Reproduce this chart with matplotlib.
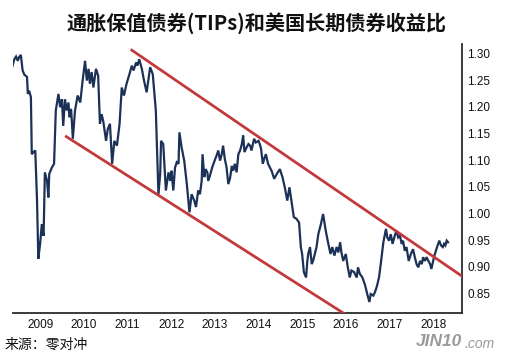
import matplotlib
matplotlib.use("Agg")
import matplotlib.pyplot as plt

# TIPs / long-term Treasury yield ratio
years = [
    2008.35, 2008.41, 2008.45, 2008.49, 2008.52, 2008.56, 2008.60, 2008.64, 2008.70, 2008.72,
    2008.75, 2008.79, 2008.81, 2008.85, 2008.89, 2008.93, 2008.96, 2009.00, 2009.04, 2009.08,
    2009.11, 2009.16, 2009.19, 2009.21, 2009.27, 2009.32, 2009.36, 2009.42, 2009.46, 2009.50,
    2009.53, 2009.57, 2009.61, 2009.65, 2009.67, 2009.71, 2009.75, 2009.80, 2009.86, 2009.92,
    2009.97, 2010.03, 2010.07, 2010.11, 2010.14, 2010.18, 2010.22, 2010.28, 2010.33, 2010.37,
    2010.41, 2010.45, 2010.51, 2010.55, 2010.60, 2010.65, 2010.70, 2010.76, 2010.82, 2010.87,
    2010.92, 2010.98, 2011.06, 2011.10, 2011.14, 2011.20, 2011.23, 2011.27, 2011.33, 2011.38,
    2011.44, 2011.52, 2011.58, 2011.65, 2011.71, 2011.75, 2011.77, 2011.82, 2011.88, 2011.94,
    2011.98, 2012.01, 2012.05, 2012.09, 2012.13, 2012.17, 2012.19, 2012.24, 2012.30, 2012.36,
    2012.42, 2012.47, 2012.53, 2012.57, 2012.62, 2012.66, 2012.70, 2012.72, 2012.76, 2012.79,
    2012.83, 2012.85, 2012.89, 2012.94, 2013.01, 2013.04, 2013.08, 2013.12, 2013.16, 2013.19,
    2013.23, 2013.27, 2013.31, 2013.35, 2013.39, 2013.42, 2013.46, 2013.50, 2013.54, 2013.58,
    2013.62, 2013.65, 2013.68, 2013.73, 2013.77, 2013.81, 2013.84, 2013.90, 2013.94, 2014.00,
    2014.03, 2014.06, 2014.10, 2014.13, 2014.17, 2014.22, 2014.30, 2014.36, 2014.42, 2014.49,
    2014.55, 2014.61, 2014.66, 2014.71, 2014.76, 2014.81, 2014.87, 2014.93, 2014.97, 2015.00,
    2015.04, 2015.09, 2015.12, 2015.14, 2015.18, 2015.22, 2015.25, 2015.29, 2015.33, 2015.37,
    2015.43, 2015.48, 2015.54, 2015.60, 2015.65, 2015.69, 2015.74, 2015.79, 2015.83, 2015.87,
    2015.90, 2015.94, 2016.00, 2016.04, 2016.09, 2016.13, 2016.19, 2016.25, 2016.28, 2016.32,
    2016.38, 2016.44, 2016.50, 2016.54, 2016.57, 2016.63, 2016.67, 2016.71, 2016.76, 2016.80,
    2016.86, 2016.92, 2016.95, 2016.99, 2017.03, 2017.07, 2017.12, 2017.16, 2017.20, 2017.24,
    2017.28, 2017.31, 2017.35, 2017.39, 2017.44, 2017.49, 2017.54, 2017.58, 2017.62, 2017.66,
    2017.70, 2017.74, 2017.77, 2017.81, 2017.85, 2017.89, 2017.93, 2017.96, 2018.00, 2018.04,
    2018.09, 2018.14, 2018.18, 2018.22, 2018.25, 2018.28, 2018.31, 2018.34,
]
ratio = [
    1.271, 1.289, 1.294, 1.286, 1.293, 1.297, 1.268, 1.260, 1.256, 1.224,
    1.230, 1.218, 1.111, 1.115, 1.118, 1.024, 0.915, 0.943, 0.980, 0.958,
    1.077, 1.061, 1.030, 1.074, 1.086, 1.093, 1.193, 1.224, 1.199, 1.214,
    1.164, 1.214, 1.193, 1.208, 1.180, 1.196, 1.140, 1.193, 1.221, 1.208,
    1.246, 1.286, 1.249, 1.271, 1.243, 1.265, 1.236, 1.271, 1.258, 1.168,
    1.186, 1.171, 1.136, 1.158, 1.168, 1.093, 1.136, 1.127, 1.168, 1.236,
    1.221, 1.243, 1.265, 1.277, 1.268, 1.283, 1.277, 1.289, 1.271, 1.249,
    1.227, 1.274, 1.261, 1.193, 1.036, 1.074, 1.136, 1.130, 1.043, 1.077,
    1.061, 1.080, 1.043, 1.086, 1.096, 1.093, 1.152, 1.124, 1.099, 1.055,
    1.002, 1.036, 1.024, 1.012, 1.043, 1.036, 1.061, 1.111, 1.068, 1.083,
    1.077, 1.061, 1.071, 1.086, 1.102, 1.108, 1.118, 1.099, 1.111, 1.127,
    1.102, 1.086, 1.055, 1.066, 1.089, 1.080, 1.093, 1.077, 1.111, 1.118,
    1.130, 1.146, 1.115, 1.124, 1.130, 1.127, 1.118, 1.140, 1.133, 1.136,
    1.130, 1.121, 1.093, 1.102, 1.111, 1.093, 1.080, 1.065, 1.074, 1.083,
    1.068, 1.046, 1.024, 1.049, 1.021, 0.993, 0.990, 0.983, 0.937, 0.924,
    0.890, 0.880, 0.911, 0.924, 0.937, 0.905, 0.911, 0.924, 0.937, 0.961,
    0.980, 0.999, 0.968, 0.943, 0.924, 0.937, 0.921, 0.937, 0.927, 0.946,
    0.927, 0.911, 0.924, 0.902, 0.880, 0.893, 0.890, 0.880, 0.899, 0.887,
    0.880, 0.866, 0.846, 0.834, 0.849, 0.846, 0.853, 0.863, 0.880, 0.905,
    0.946, 0.971, 0.955, 0.949, 0.961, 0.943, 0.958, 0.968, 0.955, 0.958,
    0.943, 0.949, 0.930, 0.937, 0.911, 0.924, 0.933, 0.918, 0.905, 0.899,
    0.911, 0.905, 0.918, 0.911, 0.918, 0.911, 0.905, 0.896, 0.911, 0.924,
    0.937, 0.949, 0.940, 0.937, 0.943, 0.940, 0.949, 0.946,
]

# descending channel drawn on the chart (start, end)
upper_x = [2011.10, 2018.65]
upper_y = [1.306, 0.883]
lower_x = [2009.60, 2015.95]
lower_y = [1.144, 0.813]

x_ticks = list(range(2009, 2019))
y_ticks = [0.85, 0.90, 0.95, 1.00, 1.05, 1.10, 1.15, 1.20, 1.25, 1.30]

TITLE = "通胀保值债券(TIPs)和美国长期债券收益比"
SOURCE = "来源：零对冲"

LINE = "#1c3157"
RED = "#c23a3c"
AXIS = "#2b2b2b"

plt.rcParams["font.family"] = ["Liberation Sans", "Noto Sans CJK SC", "DejaVu Sans"]

fig = plt.figure(figsize=(5.08, 3.55), dpi=100)
ax = fig.add_axes([0.0256, 0.1183, 0.8838, 0.7577])

ax.plot(years, ratio, color=LINE, linewidth=1.6, solid_joinstyle="miter", zorder=2)
ax.plot(upper_x, upper_y, color=RED, linewidth=2.0, zorder=3)
ax.plot(lower_x, lower_y, color=RED, linewidth=2.0, zorder=3)

ax.set_xlim(2008.38, 2018.66)
ax.set_ylim(0.8134, 1.3175)

ax.yaxis.tick_right()
ax.set_yticks(y_ticks)
ax.set_yticklabels([f"{v:.2f}" for v in y_ticks])
ax.set_xticks(x_ticks)
ax.set_xticklabels([str(y) for y in x_ticks])
ax.tick_params(axis="both", length=0, labelsize=8.5, colors="#111111")
ax.tick_params(axis="y", pad=4)
ax.tick_params(axis="x", pad=4)

for side in ("top", "left"):
    ax.spines[side].set_visible(False)
for side in ("bottom", "right"):
    ax.spines[side].set_color(AXIS)
    ax.spines[side].set_linewidth(1.3)

fig.text(0.505, 0.935, TITLE, ha="center", va="center", fontsize=14.5,
         fontweight="bold", family=["Noto Sans CJK SC", "DejaVu Sans"], color="#111111")
fig.text(0.008, 0.028, SOURCE, ha="left", va="center", fontsize=10,
         family=["Noto Sans CJK SC", "DejaVu Sans"], color="#111111")

# watermark
fig.text(0.818, 0.038, "JIN10", ha="left", va="center", fontsize=12.5, style="italic",
         fontweight="bold", color="#9a9a9a", family=["Liberation Sans"])
fig.text(0.915, 0.030, ".com", ha="left", va="center", fontsize=10, style="italic",
         color="#9a9a9a", family=["Liberation Sans"])

fig.savefig("out.png", dpi=100, facecolor="white")
